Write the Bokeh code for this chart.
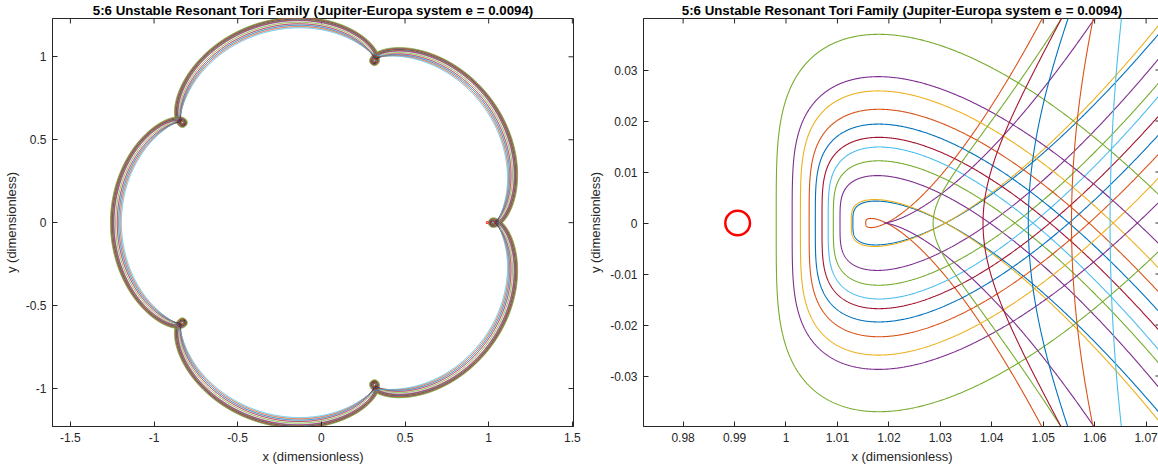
import numpy as np
from bokeh.plotting import figure
from bokeh.layouts import row
from bokeh.models import Range1d, FixedTicker, CustomJSTickFormatter
from bokeh.embed import file_html
from bokeh.resources import INLINE

TITLE = "5:6 Unstable Resonant Tori Family (Jupiter-Europa system e = 0.0094)"

BLUE, ORANGE, YELLOW, PURPLE = "#0072BD", "#D95319", "#EDB120", "#7E2F8E"
GREEN, CYAN, DARKRED = "#77AC30", "#4DBEEE", "#A2142F"
INK = "#262626"

# Tori whose periapsis passage makes a loop:
# leftmost x, loop half-height, x where the loop crosses itself
loop_color = [BLUE, ORANGE, YELLOW, PURPLE, GREEN, CYAN, DARKRED, BLUE, ORANGE, YELLOW, PURPLE, GREEN]
loop_peri_x = [1.0130, 1.0155, 1.0127, 1.0105, 1.0092, 1.0082, 1.0070, 1.0057, 1.0045, 1.0028, 1.0012, 0.9981]
loop_height = [0.0043, 0.0009, 0.0046, 0.0093, 0.0122, 0.0149, 0.0168, 0.0194, 0.0223, 0.0259, 0.0287, 0.0370]
loop_tip_x = [1.0310, 1.0195, 1.0310, 1.0396, 1.0445, 1.0480, 1.0513, 1.0550, 1.0589, 1.0636, 1.0683, 1.0780]

# Torus sitting on the loop / no-loop boundary (a cusp at periapsis)
cusp_color = [PURPLE]
cusp_peri_x = [1.0190]

# Tori passing periapsis without a loop: x on the axis, x where they reach |y| = 0.04
arc_color = [GREEN, DARKRED, BLUE, ORANGE, CYAN]
arc_peri_x = [1.0286, 1.0383, 1.0471, 1.0555, 1.0630]
arc_edge_x = [1.0535, 1.0535, 1.0548, 1.0597, 1.0652]
ARC_EDGE_Y = 0.04

# Europa (position and radius in the same units)
europa_x, europa_y, europa_r = [0.9906], [0.0], 0.0024

# Axis ticks
left_xticks = [-1.5, -1, -0.5, 0, 0.5, 1, 1.5]
left_yticks = [-1, -0.5, 0, 0.5, 1]
right_xticks = [0.98, 0.99, 1.0, 1.01, 1.02, 1.03, 1.04, 1.05, 1.06, 1.07]
right_yticks = [-0.03, -0.02, -0.01, 0, 0.01, 0.02, 0.03]

# ---------------------------------------------------------------------------
# Whole orbit: 5:6 resonant Kepler ellipse seen in the frame rotating with Europa
A_RES = (6.0 / 5.0) ** (2.0 / 3.0)


def rotating_orbit(rp, n=6000):
    e = 1.0 - rp / A_RES
    E = np.linspace(0.0, 10.0 * np.pi, n)
    beta = e / (1.0 + np.sqrt(1.0 - e * e))
    f = E + 2.0 * np.arctan(beta * np.sin(E) / (1.0 - beta * np.cos(E)))
    t = (E - e * np.sin(E)) * A_RES ** 1.5
    r = A_RES * (1.0 - e * np.cos(E))
    phi = f - t
    return r * np.cos(phi), r * np.sin(phi)


# Close-up of the periapsis passage:
#   y = b t - c t^3
#   x = xp + a t^2                      (no loop)
#   x = xp + a t^4 / (t^2 + tau^2)      (loop; flattened where it passes closest)
C_TAIL = 0.054
A_FLAT = 0.05
FLAT = 0.45


def times(tmax=2.5, n=2401):
    return np.linspace(-tmax, tmax, n)


def loop_passage(xp, height, tip):
    b = (1.5 * height * np.sqrt(3.0 * C_TAIL)) ** (2.0 / 3.0)
    t0sq = b / C_TAIL
    tau2 = FLAT * FLAT * t0sq
    a = (tip - xp) * (1.0 + FLAT * FLAT) / t0sq
    t = times()
    return xp + a * t ** 4 / (t * t + tau2), b * t - C_TAIL * t ** 3


def open_passage(xp, b):
    t = times()
    return xp + A_FLAT * t * t, b * t - C_TAIL * t ** 3


def arc_passage(xp, edge):
    te = np.sqrt((edge - xp) / A_FLAT)
    b = -(ARC_EDGE_Y - C_TAIL * te ** 3) / te
    return open_passage(xp, b)


# ---------------------------------------------------------------------------
fmt_code = "return String(Number(tick.toFixed(4)));"
TICK_LEN = 5


def make_panel(xr, yr, xticks, yticks, fw, bl, br):
    fh = 408
    p = figure(frame_width=fw, frame_height=fh,
               x_range=Range1d(*xr), y_range=Range1d(*yr),
               output_backend="svg", toolbar_location=None, title=TITLE,
               min_border_left=bl, min_border_right=br,
               min_border_top=18, min_border_bottom=41,
               background_fill_color="white", border_fill_color="white")
    p.xgrid.visible = False
    p.ygrid.visible = False
    p.outline_line_color = INK
    p.outline_line_width = 1

    for axes, ticks in ((p.xaxis, xticks), (p.yaxis, yticks)):
        for ax in axes:
            ax.ticker = FixedTicker(ticks=ticks)
            ax.formatter = CustomJSTickFormatter(code=fmt_code)
            ax.axis_line_color = INK
            ax.major_tick_line_color = INK
            ax.major_tick_in = TICK_LEN
            ax.major_tick_out = 0
            ax.minor_tick_line_color = None
            ax.major_label_text_font = "Liberation Sans"
            ax.major_label_text_font_size = "12px"
            ax.major_label_text_color = INK
            ax.major_label_standoff = 6
            ax.axis_label_text_font = "Liberation Sans"
            ax.axis_label_text_font_size = "13px"
            ax.axis_label_text_font_style = "normal"
            ax.axis_label_text_color = INK
            ax.axis_label_standoff = 4
    p.xaxis.axis_label = "x (dimensionless)"
    p.yaxis.axis_label = "y (dimensionless)"

    # inward ticks mirrored on the top and right edges of the box
    dy = TICK_LEN * (yr[1] - yr[0]) / fh
    dx = TICK_LEN * (xr[1] - xr[0]) / fw
    p.segment(x0=xticks, y0=[yr[1]] * len(xticks), x1=xticks, y1=[yr[1] - dy] * len(xticks),
              line_color=INK, line_width=1)
    p.segment(x0=[xr[1]] * len(yticks), y0=yticks, x1=[xr[1] - dx] * len(yticks), y1=yticks,
              line_color=INK, line_width=1)

    p.title.align = "center"
    p.title.text_font = "Liberation Sans"
    p.title.text_font_size = "13.3px"
    p.title.text_font_style = "bold"
    p.title.text_color = "black"
    p.title.standoff = 1
    return p


LEFT_X, LEFT_Y = (-1.607, 1.507), (-1.229, 1.231)
RIGHT_X, RIGHT_Y = (0.9723, 1.0728), (-0.0399, 0.0401)

# Left: the full family
p1 = make_panel(LEFT_X, LEFT_Y, left_xticks, left_yticks, 521, 49, 10)
all_peri = loop_peri_x + cusp_peri_x + arc_peri_x
all_color = loop_color + cusp_color + arc_color
for rp, col in zip(all_peri, all_color):
    x, y = rotating_orbit(rp)
    p1.line(x, y, line_color=col, line_width=1)
p1.circle(x=europa_x, y=europa_y, radius=europa_r, fill_color=None,
          line_color="red", line_width=2)

# Right: close-up near Europa
p2 = make_panel(RIGHT_X, RIGHT_Y, right_xticks, right_yticks, 517, 60, 1)
for xp, h, tip, col in zip(loop_peri_x, loop_height, loop_tip_x, loop_color):
    x, y = loop_passage(xp, h, tip)
    p2.line(x, y, line_color=col, line_width=1.1)
for xp, col in zip(cusp_peri_x, cusp_color):
    x, y = open_passage(xp, 0.0)
    p2.line(x, y, line_color=col, line_width=1.1)
for xp, edge, col in zip(arc_peri_x, arc_edge_x, arc_color):
    x, y = arc_passage(xp, edge)
    p2.line(x, y, line_color=col, line_width=1.1)
p2.circle(x=europa_x, y=europa_y, radius=europa_r, fill_color=None,
          line_color="red", line_width=2.5)

layout = row(p1, p2)
open("out.html", "w").write(file_html(layout, INLINE))
